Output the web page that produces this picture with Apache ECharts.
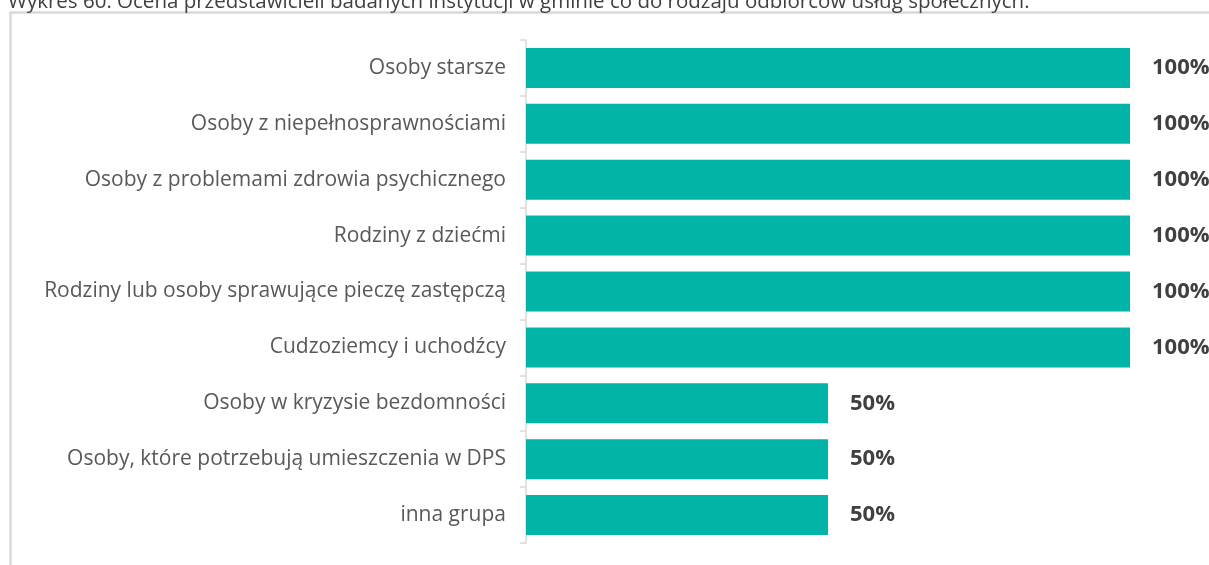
<!DOCTYPE html>
<html>
<head>
<meta charset="utf-8">
<script src="https://cdn.jsdelivr.net/npm/echarts@6/dist/echarts.min.js"></script>
<style>
  html, body { margin: 0; padding: 0; background: #ffffff; }
  #chart { width: 1209px; height: 565px; }
</style>
</head>
<body>
<div id="chart"></div>
<script>
// Recipient groups, listed top to bottom
const categories = [
  'Osoby starsze',
  'Osoby z niepełnosprawnościami',
  'Osoby z problemami zdrowia psychicznego',
  'Rodziny z dziećmi',
  'Rodziny lub osoby sprawujące pieczę zastępczą',
  'Cudzoziemcy i uchodźcy',
  'Osoby w kryzysie bezdomności',
  'Osoby, które potrzebują umieszczenia w DPS',
  'inna grupa'
];

// Share of answers (%)
const shares = [100, 100, 100, 100, 100, 100, 50, 50, 50];

const titleText = 'Wykres 60. Ocena przedstawicieli badanych instytucji w gminie co do rodzaju odbiorców usług społecznych.';

const FONT = '"Open Sans", "Noto Sans", sans-serif';

const chart = echarts.init(document.getElementById('chart'), null, { renderer: 'canvas' });

chart.setOption({
  animation: false,
  backgroundColor: '#ffffff',
  graphic: [
    {
      type: 'rect',
      left: 8, top: 10,
      shape: { width: 1230, height: 600 },
      style: { fill: 'none', stroke: '#d9d9d9', lineWidth: 2.5 },
      silent: true,
      z: 0
    },
    {
      type: 'text',
      x: 8, y: 13,
      style: {
        text: titleText,
        font: '20.5px ' + FONT,
        fill: '#404040',
        verticalAlign: 'bottom',
        align: 'left'
      },
      silent: true
    }
  ],
  grid: { left: 526, right: 79, top: 40, bottom: 22, containLabel: false },
  xAxis: {
    type: 'value',
    min: 0,
    max: 100,
    show: false
  },
  yAxis: {
    type: 'category',
    data: categories,
    inverse: true,
    offset: 2,
    axisLine: { show: true, lineStyle: { color: '#d9d9d9', width: 1.5 } },
    axisTick: { show: true, length: 6, lineStyle: { color: '#d9d9d9', width: 1.5 } },
    axisLabel: {
      color: '#595959',
      fontFamily: FONT,
      fontSize: 21,
      margin: 18
    },
    splitLine: { show: false }
  },
  series: [
    {
      type: 'bar',
      data: shares,
      barWidth: 40,
      itemStyle: { color: '#02b3a7' },
      label: {
        show: true,
        position: 'right',
        distance: 22,
        formatter: '{c}%',
        color: '#404040',
        fontFamily: FONT,
        fontWeight: 'bold',
        fontSize: 22
      }
    }
  ]
});
</script>
</body>
</html>
